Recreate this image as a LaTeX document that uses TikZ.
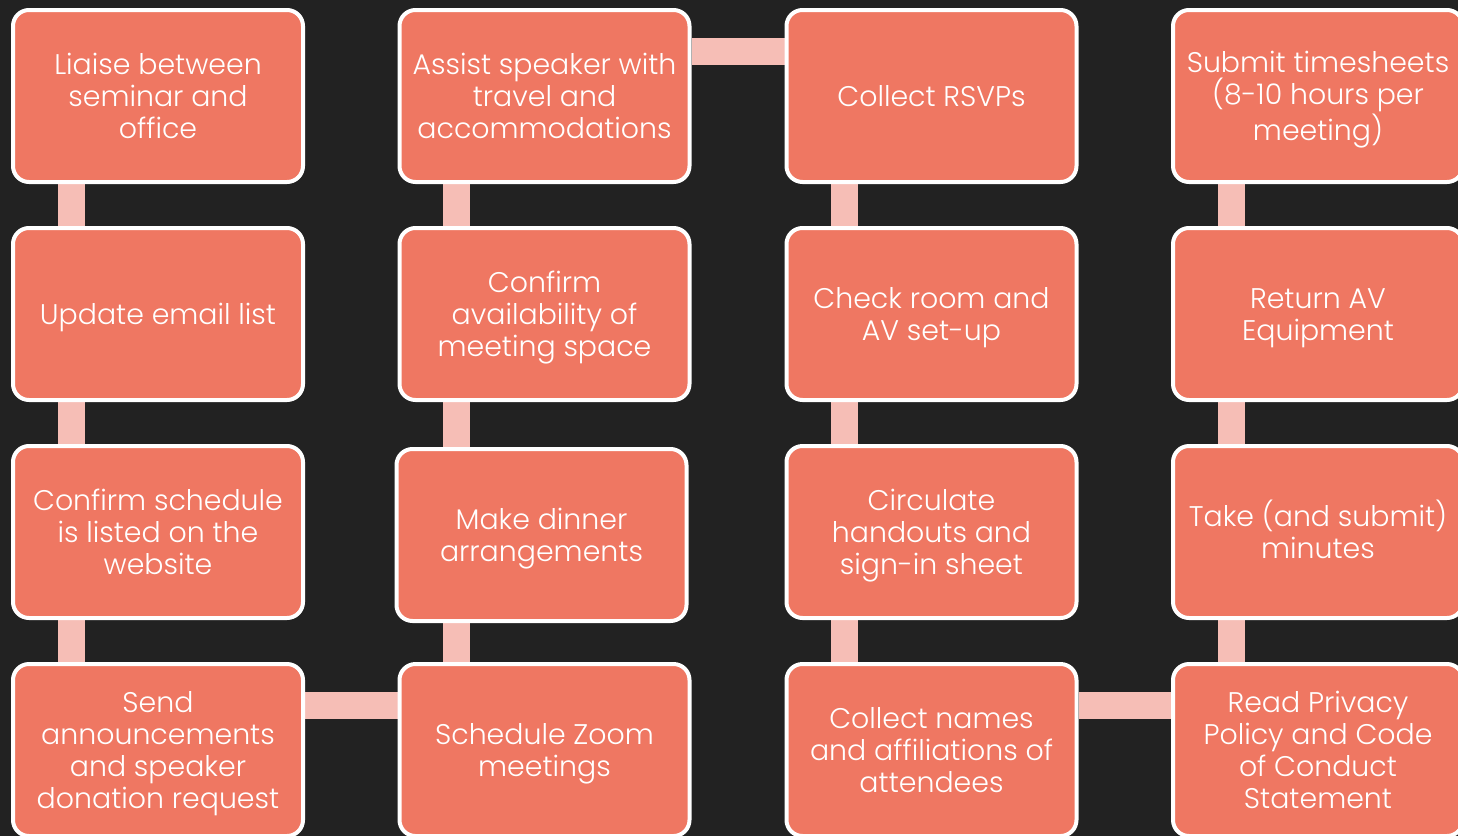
\documentclass[tikz,border=0pt]{standalone}
\usepackage{fontspec}
\setmainfont{Poppins Light}
\pgfdeclarelayer{canvas}
\pgfdeclarelayer{background}
\pgfsetlayers{canvas,background,main}
\definecolor{bgdark}{RGB}{34,34,34}
\definecolor{coral}{RGB}{239,119,98}
\definecolor{linkpink}{RGB}{246,190,182}
\newcommand{\fs}{\rule{0pt}{15pt}}
\newcommand{\botstrut}{\rule[-4.8pt]{0pt}{4.8pt}}
\tikzset{
  task/.style={rectangle, rounded corners=8pt, draw=white, line width=2pt, fill=coral,
    minimum width=145pt, minimum height=86pt, text=white, align=center,
    font=\fontsize{14.2}{16}\selectfont, inner sep=2pt,
    execute at end node=\botstrut},
  link/.style={draw=linkpink, line width=13.5pt}
}
\begin{document}
\begin{tikzpicture}[x=0.5pt,y=-0.5pt]
\begin{pgfonlayer}{canvas}
\fill[bgdark] (0,0) rectangle (1458,836);
\end{pgfonlayer}
\useasboundingbox (0,0) rectangle (1458,836);
% column 1
\node[task] (a1) at (158,96) {\fs Liaise between\\seminar and\\office};
\node[task] (a2) at (158,314) {\fs Update email list};
\node[task] (a3) at (158,532) {\fs Confirm schedule\\is listed on the\\website};
\node[task] (a4) at (158,750) {\fs Send\\announcements\\and speaker\\donation request};
% column 2
\node[task] (b1) at (544.5,96) {\fs Assist speaker with\\travel and\\accommodations};
\node[task] (b2) at (544.5,314) {\fs Confirm\\availability of\\meeting space};
\node[task] (b3) at (541.5,535) {\fs Make dinner\\arrangements};
\node[task] (b4) at (544.5,750) {\fs Schedule Zoom\\meetings};
% column 3
\node[task] (c1) at (931.5,96) {\fs Collect RSVPs};
\node[task] (c2) at (931.5,314) {\fs Check room and\\AV set-up};
\node[task] (c3) at (931.5,532) {\fs Circulate\\handouts and\\sign-in sheet};
\node[task] (c4) at (931.5,750) {\fs Collect names\\and affiliations of\\attendees};
% column 4
\node[task] (d1) at (1318,96) {\fs Submit timesheets\\(8-10 hours per\\meeting)};
\node[task] (d2) at (1318,314) {\fs Return AV\\Equipment};
\node[task] (d3) at (1318,532) {\fs Take (and submit)\\minutes};
\node[task] (d4) at (1318,750) {\fs Read Privacy\\Policy and Code\\of Conduct\\Statement};
\begin{pgfonlayer}{background}
\draw[link] ([xshift=30pt]a1.south west) -- ([xshift=30pt]a4.north west);
\draw[link] ([yshift=-21.5pt]a4.north east) -- ([yshift=-21.5pt]b4.north west);
\draw[link] ([xshift=29.5pt]b4.north west) -- ([xshift=29.5pt]b1.south west);
\draw[link] ([yshift=-21.5pt]b1.north east) -- ([yshift=-21.5pt]c1.north west);
\draw[link] ([xshift=30pt]c1.south west) -- ([xshift=30pt]c4.north west);
\draw[link] ([yshift=-21.5pt]c4.north east) -- ([yshift=-21.5pt]d4.north west);
\draw[link] ([xshift=30pt]d4.north west) -- ([xshift=30pt]d1.south west);
\end{pgfonlayer}
\end{tikzpicture}
\end{document}
